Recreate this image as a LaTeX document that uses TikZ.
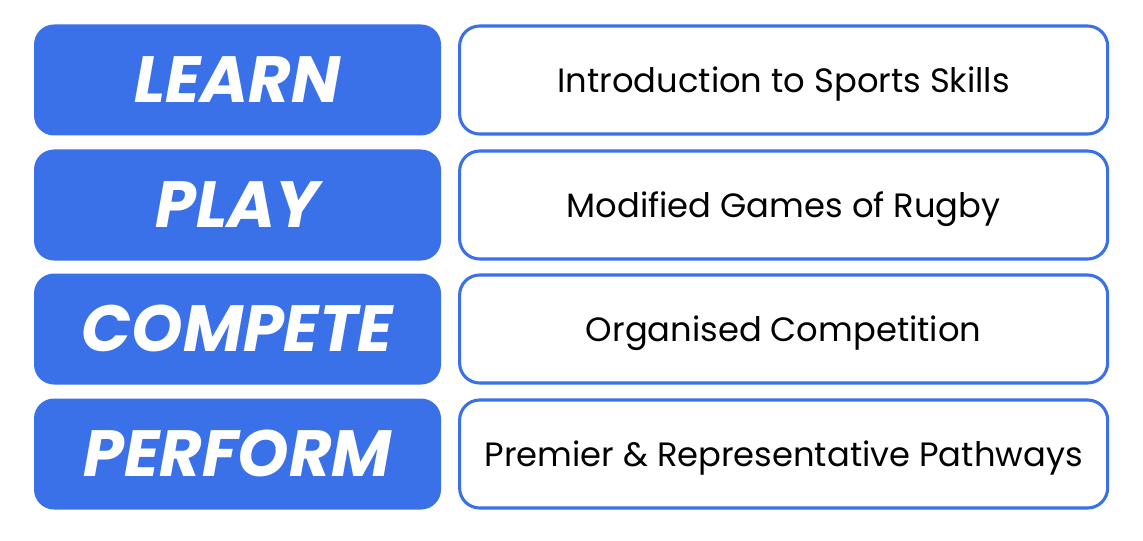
\documentclass[tikz,border=0pt]{standalone}
\usepackage{fontspec}
\setmainfont{Poppins}
\usetikzlibrary{positioning}
\definecolor{stageblue}{RGB}{58,112,232}
\tikzset{
  stage/.style={rectangle, fill=stageblue, text=white,
    minimum width=10.175cm, minimum height=2.775cm,
    text height=40pt, text depth=8.4pt,
    rounded corners=0.5cm, font=\fontsize{46.5}{52}\selectfont\bfseries\itshape},
  desc/.style={rectangle, draw=stageblue, fill=white, line width=2.2pt,
    minimum width=16.2cm, minimum height=2.7cm,
    text height=24pt, text depth=5.6pt,
    rounded corners=0.5cm, font=\fontsize{24}{28}\selectfont}
}
\begin{document}
\begin{tikzpicture}
  \useasboundingbox (0,0) rectangle (28.575,13.5);

  % Stage blocks
  \node[stage] (learn) at (5.9375, 11.5) {LEARN};
  \node[stage] (play) at (5.9375, 8.375) {PLAY};
  \node[stage] (compete) at (5.9375, 5.275) {COMPETE};
  \node[stage] (perform) at (5.9375, 2.15) {PERFORM};

  % Descriptions
  \node[desc, right=0.42cm of learn] (learnd) {Introduction to Sports Skills};
  \node[desc, right=0.42cm of play] (playd) {Modified Games of Rugby};
  \node[desc, right=0.42cm of compete] (competed) {Organised Competition};
  \node[desc, right=0.42cm of perform] (performd) {Premier \& Representative Pathways};
\end{tikzpicture}
\end{document}
